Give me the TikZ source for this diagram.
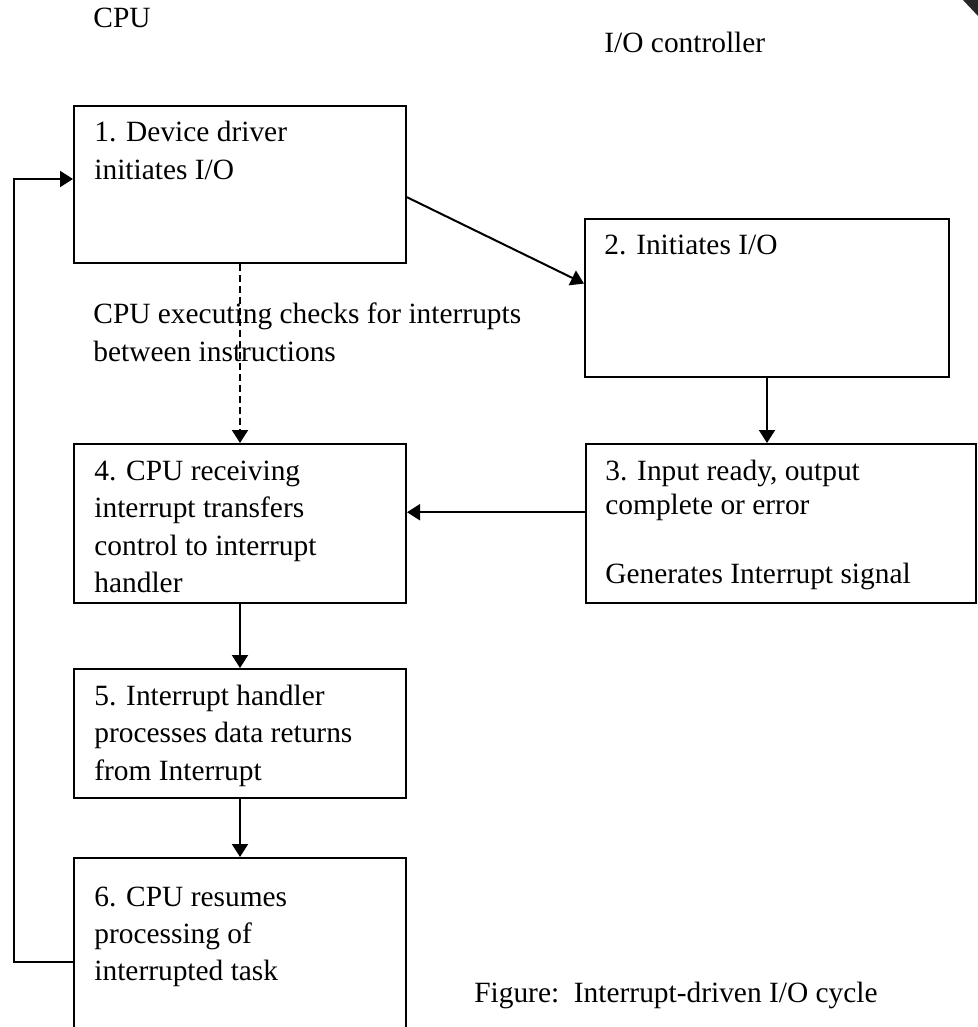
\documentclass[tikz,border=0pt]{standalone}
\usepackage{fontspec}
\setmainfont{Liberation Serif}
\usetikzlibrary{arrows.meta,calc}

% text block whose reference point is the baseline of its first line
\newcommand{\txtlines}[2]{\parbox[t]{300pt}{\fontsize{14.7pt}{#1}\selectfont\raggedright #2}}

\begin{document}
\begin{tikzpicture}[x=0.5pt,y=-0.5pt,
  stepbox/.style={draw, line width=1pt, anchor=north west, inner sep=0pt, minimum width=#1},
  txt/.style={anchor=base west, inner sep=0pt, font=\fontsize{14.7pt}{19pt}\selectfont},
  flow/.style={line width=1pt, -{Triangle[width=8pt,length=6.5pt]}},
  dflow/.style={flow, dash pattern=on 3.5pt off 2pt}]
\useasboundingbox (0,0) rectangle (978,1027);
\clip (0,0) rectangle (978,1027);

% corner mark
\fill[black!85] (963,0) -- (978,0) -- (978,16) -- cycle;

% headings
\node[txt] (cpu) at (93,28) {CPU};
\node[txt] (ioc) at (604,53) {I/O controller};

% boxes
\node[stepbox=166pt, minimum height=78.5pt] (b1) at (73,105) {};
\node[stepbox=182pt, minimum height=79pt]   (b2) at (584,218) {};
\node[stepbox=195pt, minimum height=79.5pt] (b3) at (585,443) {};
\node[stepbox=166pt, minimum height=79.5pt] (b4) at (73,443) {};
\node[stepbox=166pt, minimum height=64.5pt] (b5) at (73,668) {};
\node[stepbox=166pt, minimum height=96.5pt] (b6) at (73,857) {};

% box texts
\node[txt] (t1) at (94,142) {\txtlines{19pt}{1. Device driver\\initiates I/O}};
\node[txt] (t2) at (604,255) {\txtlines{19pt}{2. Initiates I/O}};
\node[txt] (t3) at (605,480) {\txtlines{17.25pt}{3. Input ready, output\\complete or error\\~\\Generates Interrupt signal}};
\node[txt] (t4) at (94,480) {\txtlines{18.75pt}{4. CPU receiving\\interrupt transfers\\control to interrupt\\handler}};
\node[txt] (t5) at (94,705) {\txtlines{18.75pt}{5. Interrupt handler\\processes data returns\\from Interrupt}};
\node[txt] (t6) at (94,906) {\txtlines{18.5pt}{6. CPU resumes\\processing of\\interrupted task}};

% note on the polling path
\node[txt] (note) at (93,323) {\txtlines{19.25pt}{CPU executing checks for interrupts\\between instructions}};

% caption
\node[txt, anchor=base east] (cap) at (878,1002) {Figure:\ \ Interrupt-driven I/O cycle};

% connectors
\draw[flow] ($(b1.north east)!0.58!(b1.south east)$) -- ($(b2.north west)!0.41!(b2.south west)$);
\draw[dflow] (b1.south) -- (b4.north);
\draw[flow] (b2.south) -- (b2.south |- b3.north);
\coordinate (m3) at ($(b3.north west)!0.43!(b3.south west)$);
\draw[flow] (m3) -- (b4.east |- m3);
\draw[flow] (b4.south) -- (b5.north);
\draw[flow] (b5.south) -- (b6.north);
\coordinate (r6) at ($(b6.north west)+(0,105)$);
\coordinate (r1) at ($(b1.north west)+(0,74)$);
\coordinate (back) at (14,0);
\draw[flow] (r6) -| (back |- r1) -- (r1);
\end{tikzpicture}
\end{document}
